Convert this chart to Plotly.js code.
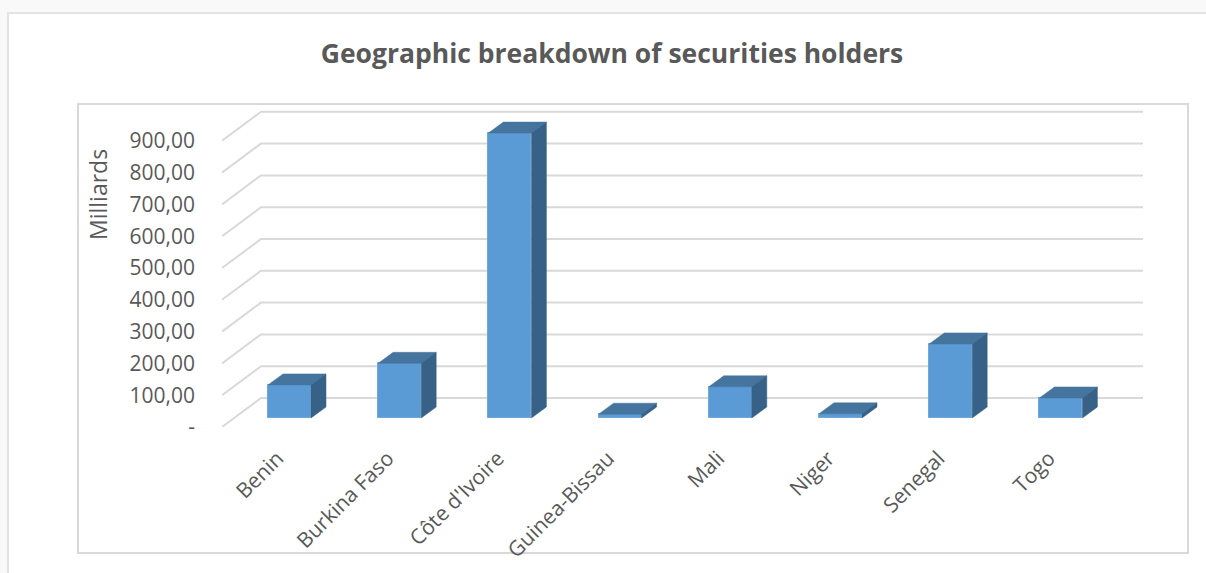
<!DOCTYPE html>
<html>
<head>
<meta charset="utf-8">
<script src="https://cdn.plot.ly/plotly-3.0.1.min.js"></script>
<style>html,body{margin:0;padding:0;background:#fff}#chart{width:1206px;height:573px}</style>
</head>
<body>
<div id="chart"></div>
<script>
const categories = ["Benin","Burkina Faso","Côte d'Ivoire","Guinea-Bissau","Mali","Niger","Senegal","Togo"];
const values = [104, 172, 896, 12, 98, 13, 233, 63];
const yTicks = [0,100,200,300,400,500,600,700,800,900];
const yTickLabels = ["-","100,00","200,00","300,00","400,00","500,00","600,00","700,00","800,00","900,00"];

const W = 1206, H = 573;
const plotL = 222, plotR = 1143, plotT = 100, plotB = 427;
const unitX = 110.2, firstX = 289.5, unitY = 0.318;
const xRange = [(plotL-firstX)/unitX, (plotR-firstX)/unitX];
const yRange = [0, (plotB-plotT)/unitY];
const wallDx = 39/unitX, wallDy = 29/unitY;       // front plane -> back wall
const barBase = 9/unitY, barWidth = 43/unitX;     // bar floor position in the depth
const depthDx = 15/unitX, depthDy = 11/unitY;     // bar depth
const labelShift = 12/unitX;                      // rotated labels sit left of the bar centre

const xs = categories.map((c,i)=>i);
const grey = '#595959', gridColor = '#d9d9d9';

function face(xp, yp, color){
  return {type:'scatter',mode:'lines',x:xp,y:yp,fill:'toself',fillcolor:color,
          line:{color:color,width:0.5},hoverinfo:'skip',showlegend:false};
}
const traces = [{
  type:'bar', x:xs, y:values, base:values.map(()=>barBase), width:barWidth,
  marker:{color:'#5b9bd5',line:{color:'#6fa8dc',width:1}}, showlegend:false,
  hovertemplate:'%{text}: %{y}<extra></extra>', text:categories, textposition:'none'
}];
values.forEach((v,i)=>{
  const l=i-barWidth/2, r=i+barWidth/2, t=barBase+v, b=barBase;
  traces.push(face([l,l+depthDx,r+depthDx,r,l],[t,t+depthDy,t+depthDy,t,t],'#45749f'));
  traces.push(face([r,r+depthDx,r+depthDx,r,r],[t,t+depthDy,b+depthDy,b,t],'#376187'));
});

const px = x => (x-plotL)/(plotR-plotL);
const py = y => (plotB-y)/(plotB-plotT);
function frame(x0,y0,x1,y1,color,fill){
  return {type:'rect',xref:'paper',yref:'paper',layer:'below',
    x0:px(x0),x1:px(x1),y0:py(y0),y1:py(y1),
    line:{color:color,width:2},fillcolor:fill||'rgba(0,0,0,0)'};
}
const gridShapes = yTicks.map(v=>({
  type:'path',xref:'x',yref:'y',layer:'below',
  path:`M${xRange[0]},${v} L${xRange[0]+wallDx},${v+wallDy} L${xRange[1]},${v+wallDy}`,
  line:{color:gridColor,width:2}
}));

const layout = {
  width:W,height:H,autosize:false,
  paper_bgcolor:'#f9f9f9',plot_bgcolor:'rgba(0,0,0,0)',
  margin:{l:plotL,r:W-plotR,t:plotT,b:H-plotB,pad:0},
  font:{family:'"Open Sans",sans-serif',color:grey,size:21},
  title:{text:'<b>Geographic breakdown of securities holders</b>',
         font:{family:'"Open Sans",sans-serif',size:26.5,color:grey},
         x:612/W,xanchor:'center',y:1-54/H,yanchor:'middle'},
  bargap:0,showlegend:false,
  xaxis:{type:'linear',range:xRange,tickmode:'array',tickvals:xs.map(i=>i-labelShift),ticktext:categories,tickangle:-45,
         showgrid:false,zeroline:false,showline:false,ticks:'',ticklabelstandoff:14,
         tickfont:{size:21,color:grey},fixedrange:true},
  yaxis:{type:'linear',range:yRange,tickmode:'array',tickvals:yTicks,ticktext:yTickLabels,
         showgrid:false,zeroline:false,showline:false,ticks:'',ticklabelstandoff:26,
         tickfont:{size:21,color:grey},fixedrange:true},
  shapes:[frame(8,13,1230,600,'#e3e3e3','#ffffff'),frame(78,104,1188,553,gridColor,'#ffffff')].concat(gridShapes),
  annotations:[{text:'Milliards',xref:'paper',yref:'paper',x:px(98),y:py(195),xanchor:'center',yanchor:'middle',
                showarrow:false,textangle:-90,font:{size:23,color:grey}}]
};
Plotly.newPlot('chart',traces,layout,{displayModeBar:false});
</script>
</body>
</html>
